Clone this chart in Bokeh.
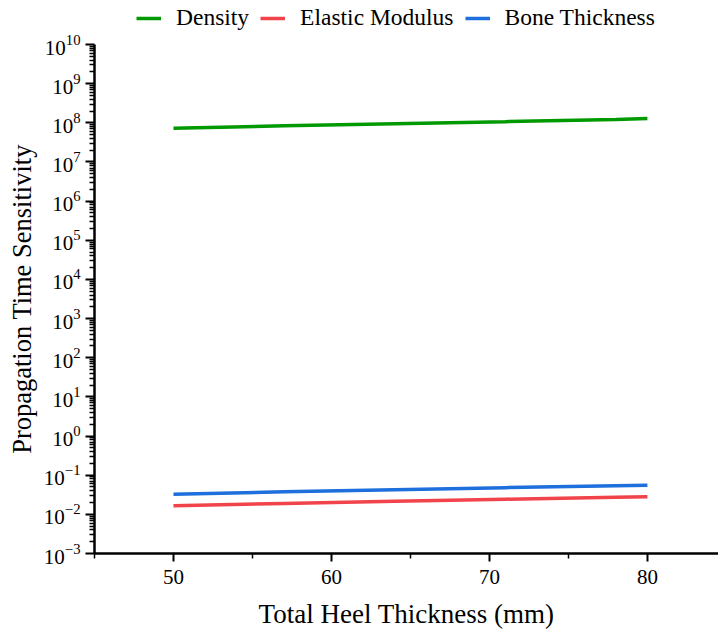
from bokeh.plotting import figure
from bokeh.layouts import column
from bokeh.models import Range1d, FixedTicker, Legend, LegendItem
from bokeh.embed import file_html
from bokeh.resources import INLINE

# ---- data ----
thickness = [50, 57, 64, 71, 78, 80]
density = [7.3e7, 8.4e7, 9.5e7, 1.07e8, 1.22e8, 1.28e8]
elastic_modulus = [0.0166, 0.0190, 0.0216, 0.0244, 0.0274, 0.0282]
bone_thickness = [0.0327, 0.0375, 0.0425, 0.0480, 0.0540, 0.0556]
all_series = [density, elastic_modulus, bone_thickness]

series_names = ["Density", "Elastic Modulus", "Bone Thickness"]
series_colors = ["#009a00", "#f0434a", "#1c6fdc"]

x_major = [50, 60, 70, 80]
x_minor = [45, 55, 65, 75, 85]
y_exponents = list(range(-3, 11))

FONT = "Liberation Serif"

# ---- main chart ----
p = figure(width=718, height=602, y_axis_type="log",
           x_range=Range1d(45, 84.5), y_range=Range1d(1e-3, 1e10),
           output_backend="svg", toolbar_location=None,
           min_border_left=94, min_border_right=0,
           min_border_top=12, min_border_bottom=81)
p.outline_line_color = None
p.grid.visible = False
p.background_fill_color = "white"
p.border_fill_color = "white"

for ys, c in zip(all_series, series_colors):
    p.line(thickness, ys, line_color=c, line_width=3.5)

# x axis
xa = p.xaxis[0]
xa.ticker = FixedTicker(ticks=x_major, minor_ticks=x_minor)
xa.axis_label = "Total Heel Thickness (mm)"
xa.axis_label_text_font = FONT
xa.axis_label_text_font_style = "normal"
xa.axis_label_text_font_size = "27px"
xa.axis_label_text_color = "black"
xa.axis_label_standoff = 12
xa.major_label_text_font = FONT
xa.major_label_text_font_size = "21px"
xa.major_label_text_color = "black"
xa.major_label_standoff = 8
xa.axis_line_width = 2.5
xa.axis_line_color = "black"
xa.major_tick_line_width = 2
xa.minor_tick_line_width = 1.5
xa.major_tick_out = 8
xa.major_tick_in = 0
xa.minor_tick_out = 5
xa.minor_tick_in = 0

# y axis
minor_y = [m * 10.0 ** e for e in y_exponents[:-1] for m in range(2, 10)]
ya = p.yaxis[0]
ya.ticker = FixedTicker(ticks=[10.0 ** e for e in y_exponents], minor_ticks=minor_y)
ya.axis_label = "Propagation Time Sensitivity"
ya.axis_label_text_font = FONT
ya.axis_label_text_font_style = "normal"
ya.axis_label_text_font_size = "26.5px"
ya.axis_label_text_color = "black"
ya.axis_label_standoff = 4
ya.major_label_text_font = FONT
ya.major_label_text_font_size = "21px"
ya.major_label_text_color = "black"
ya.major_label_standoff = 5
ya.axis_line_width = 2.5
ya.axis_line_color = "black"
ya.major_tick_line_width = 2
ya.minor_tick_line_width = 1.5
ya.major_tick_out = 9
ya.major_tick_in = 0
ya.minor_tick_out = 5
ya.minor_tick_in = 0

# ---- legend strip above the chart ----
lf = figure(width=718, height=32, x_range=Range1d(0, 1), y_range=Range1d(0, 1),
            output_backend="svg", toolbar_location=None,
            x_axis_location=None, y_axis_location=None,
            min_border=0)
lf.outline_line_color = None
lf.grid.visible = False
# same series drawn in the strip (outside its visible ranges) only to give legend keys
keys = [lf.line(thickness, ys, line_color=c, line_width=3.5)
        for ys, c in zip(all_series, series_colors)]
legend = Legend(items=[LegendItem(label=n, renderers=[r])
                       for n, r in zip(series_names, keys)],
                orientation="horizontal", location=(42, 1),
                padding=0, margin=0, spacing=11, label_standoff=15,
                glyph_width=25, glyph_height=22,
                label_text_font=FONT, label_text_font_size="23.5px",
                label_text_color="black",
                background_fill_alpha=0, border_line_alpha=0)
lf.add_layout(legend, "center")

layout = column(lf, p, spacing=0)
open("out.html", "w").write(file_html(layout, INLINE))
